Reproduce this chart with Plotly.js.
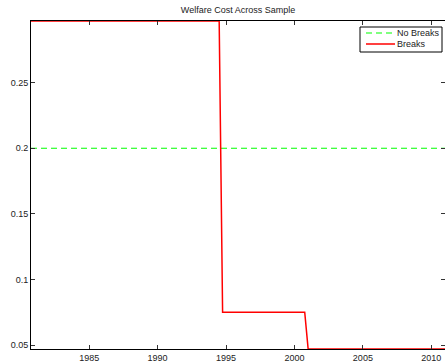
<!DOCTYPE html>
<html>
<head>
<meta charset="utf-8">
<script src="https://cdn.plot.ly/plotly-3.0.1.min.js"></script>
<style>
  html, body { margin: 0; padding: 0; background: #fff; }
  #chart { width: 445px; height: 364px; }
</style>
</head>
<body>
<div id="chart"></div>
<script>
// Sample span (quarterly dates)
const sampleStart = 1980.75;
const sampleEnd = 2011.0;

// Welfare cost without structural breaks: constant across the sample
const noBreakDates = [sampleStart, sampleEnd];
const noBreakCost = [0.2, 0.2];

// Welfare cost allowing for breaks: step path across regimes
const breakDates = [1980.75, 1994.5, 1994.75, 2000.75, 2001.0, 2011.0];
const breakCost  = [0.297, 0.297, 0.075, 0.075, 0.047, 0.047];

const seriesNames = ['No Breaks', 'Breaks'];
const seriesColors = ['#00ff00', '#ff0000'];

const xTicks = [1985, 1990, 1995, 2000, 2005, 2010];
const yTicks = [0.05, 0.1, 0.15, 0.2, 0.25];
const yTickText = ['0.05', '0.1', '0.15', '0.2', '0.25'];

const font = { family: 'Liberation Sans, Arial, Helvetica, sans-serif', size: 9, color: '#222' };

const traces = [
  {
    x: noBreakDates, y: noBreakCost, name: seriesNames[0], mode: 'lines',
    line: { color: seriesColors[0], width: 1.2, dash: '6px,4px' }
  },
  {
    x: breakDates, y: breakCost, name: seriesNames[1], mode: 'lines',
    line: { color: seriesColors[1], width: 1.5 }
  }
];

// Compact boxed legend anchored to the top-right corner of the axes (pixel offsets)
function px(x0, x1, y0, y1, extra) {
  return Object.assign({
    xref: 'paper', yref: 'paper', xsizemode: 'pixel', ysizemode: 'pixel',
    xanchor: 1, yanchor: 1, x0: x0, x1: x1, y0: y0, y1: y1
  }, extra);
}
const shapes = [
  px(-85, -3, -6, -31, { type: 'rect', fillcolor: '#fff', line: { color: '#000', width: 1 } }),
  px(-79, -50, -12, -12, { type: 'line', line: { color: seriesColors[0], width: 1.2, dash: '6px,4px' } }),
  px(-79, -50, -23, -23, { type: 'line', line: { color: seriesColors[1], width: 1.5 } })
];
const annotations = seriesNames.map((name, i) => ({
  xref: 'paper', yref: 'paper', x: 1, y: 1, xanchor: 'left', yanchor: 'middle',
  xshift: -50, yshift: i === 0 ? -12 : -23, text: name, showarrow: false, font: font
}));

const axisCommon = {
  showline: true, linecolor: '#000', linewidth: 1, mirror: 'ticks',
  ticks: 'inside', ticklen: 4, tickcolor: '#333', tickwidth: 1,
  showgrid: false, zeroline: false, tickfont: font, automargin: false
};

const layout = {
  width: 445, height: 364,
  margin: { l: 31, r: 0, t: 21, b: 15, pad: 0 },
  paper_bgcolor: '#fff', plot_bgcolor: '#fff',
  font: font,
  title: {
    text: 'Welfare Cost Across Sample', font: font,
    xref: 'paper', x: 0.5, xanchor: 'center', y: 0.972, yanchor: 'middle'
  },
  showlegend: false,
  shapes: shapes,
  annotations: annotations,
  xaxis: Object.assign({}, axisCommon, {
    range: [sampleStart, sampleEnd], tickmode: 'array', tickvals: xTicks,
    ticktext: xTicks.map(String)
  }),
  yaxis: Object.assign({}, axisCommon, {
    range: [0.047, 0.297], tickmode: 'array', tickvals: yTicks, ticktext: yTickText
  })
};

Plotly.newPlot('chart', traces, layout, { staticPlot: true, displayModeBar: false });
</script>
</body>
</html>
